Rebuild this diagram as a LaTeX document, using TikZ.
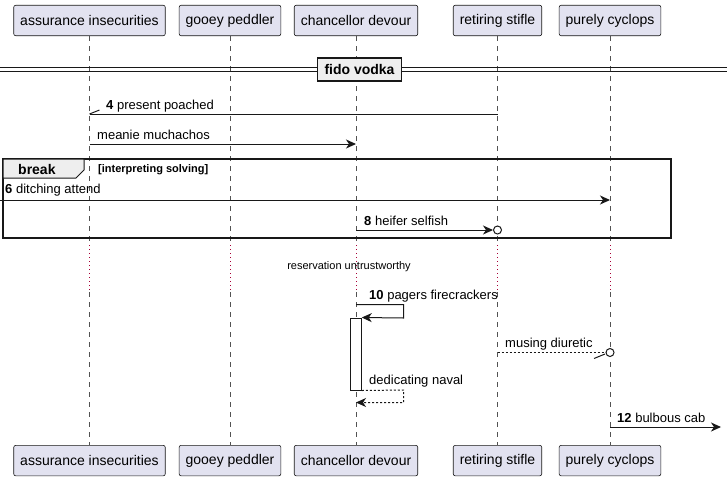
\documentclass[tikz,border=0pt]{standalone}
\usepackage{fontspec}
\setmainfont{Liberation Sans}
\usetikzlibrary{arrows.meta,calc}
\definecolor{partfill}{HTML}{E2E2F0}
\definecolor{lineblk}{HTML}{181818}
\definecolor{delayred}{HTML}{A80036}
\definecolor{grayfill}{HTML}{EEEEEE}
\begin{document}
\begin{tikzpicture}[x=1pt,y=-1pt,
  part/.style={draw=lineblk, fill=partfill, rounded corners=2pt, minimum height=30.5pt, inner xsep=6.5pt, font=\fontsize{14}{16}\selectfont, line width=0.6pt},
  life/.style={draw=lineblk!75, dash pattern=on 5pt off 5pt, line width=0.5pt},
  delay/.style={draw=delayred, dash pattern=on 1pt off 3pt, line width=0.8pt},
  msg/.style={draw=lineblk, line width=1pt},
  tip/.style={-{Stealth[length=10pt,width=9pt,inset=3pt]}},
  ret/.style={dash pattern=on 2pt off 2pt},
  lbl/.style={anchor=base west, inner sep=0pt, font=\fontsize{13}{15}\selectfont},
  circ/.style={circle, draw=lineblk, fill=white, line width=1pt, minimum size=8pt, inner sep=0pt},
]
\useasboundingbox (0,0) rectangle (727,480);
% participants
\node[part] (a1) at (89.5,20.5) {assurance insecurities};
\node[part] (a2) at (230,20.5) {gooey peddler};
\node[part] (a3) at (356,20.5) {chancellor devour};
\node[part] (a4) at (497.5,20.5) {retiring stifle};
\node[part] (a5) at (610,20.5) {purely cyclops};
\node[part] (b1) at (89.5,460.6) {assurance insecurities};
\node[part] (b2) at (230,460.6) {gooey peddler};
\node[part] (b3) at (356,460.6) {chancellor devour};
\node[part] (b4) at (497.5,460.6) {retiring stifle};
\node[part] (b5) at (610,460.6) {purely cyclops};
% lifelines
\foreach \i in {1,...,5}{
  \draw[life] (a\i.south) -- (a\i |- 0,241);
  \draw[delay] (a\i |- 0,245) -- (a\i |- 0,290);
  \draw[life] (a\i |- 0,292) -- (b\i.north);
}
% divider
\draw[lineblk, line width=1pt] (0,67) -- (727,67) (0,71) -- (727,71);
\node[draw=lineblk, fill=grayfill, line width=1.5pt, minimum width=84pt, minimum height=23pt, inner sep=0pt, font=\fontsize{14}{16}\selectfont\bfseries] (div) at (359.5,69.5) {fido vodka};
% message 4
\coordinate (m4s) at (a4 |- 0,114);
\coordinate (m4e) at (a1 |- 0,114);
\draw[msg] (m4s) -- (m4e);
\draw[msg] (m4e) -- ++(10,-4);
\node[lbl] (l4) at (106,109) {\textbf{4} present poached};
% meanie
\draw[msg,tip] (a1 |- 0,144) -- (a3 |- 0,144);
\node[lbl] (l5) at (97,139) {meanie muchachos};
% break frame
\draw[lineblk, line width=1.5pt] (3,159) rectangle (671,238);
\draw[lineblk, line width=1pt, fill=grayfill] (3,159) -- (84,159) -- (84,170) -- (76,178) -- (3,178) -- cycle;
\node[lbl, font=\fontsize{14}{16}\selectfont\bfseries] (brk) at (18,174) {break};
\node[lbl, font=\fontsize{11}{13}\selectfont\bfseries] (grd) at (98,172.5) {[interpreting solving]};
% message 6
\coordinate (src6) at (0,200);
\draw[msg,tip] (src6) -- (a5 |- 0,200);
\node[lbl] (l6) at (5,193) {\textbf{6} ditching attend};
% message 8
\node[circ] (c8) at (a4 |- 0,230) {};
\draw[msg,tip] (a3 |- 0,230) -- (c8.west);
\node[lbl] (l8) at (364,225) {\textbf{8} heifer selfish};
% delay text
\node[inner sep=0pt, font=\fontsize{11}{13}\selectfont] (dly) at (349,267) {reservation untrustworthy};
% activation
\node[draw=lineblk, fill=white, line width=1pt, minimum width=10.5pt, minimum height=72pt, inner sep=0pt] (act) at (356,354) {};
% message 10
\draw[msg,tip] (a3 |- 0,304.5) -- (403.7,304.5) -- (403.7,318) -- (act.north east);
\node[lbl] (l10) at (369,299.5) {\textbf{10} pagers firecrackers};
% musing
\node[circ] (c9) at (a5 |- 0,352.5) {};
\draw[msg,ret] (a4 |- 0,352.5) -- (c9.west);
\draw[msg] ($(c9.west)+(-0.5,1.5)$) -- ++(-11,4.5);
\node[lbl] (l11) at (505,347.5) {musing diuretic};
% dedicating
\draw[msg,ret,tip] (act.south east) -- (403.7,390) -- (403.7,402.5) -- (a3 |- 0,402.5);
\node[lbl] (l12) at (369,384.5) {dedicating naval};
% message 12
\coordinate (dst12) at (721,427);
\draw[msg,tip] (a5 |- 0,427) -- (dst12);
\node[lbl] (l13) at (617,422.5) {\textbf{12} bulbous cab};
\end{tikzpicture}
\end{document}
